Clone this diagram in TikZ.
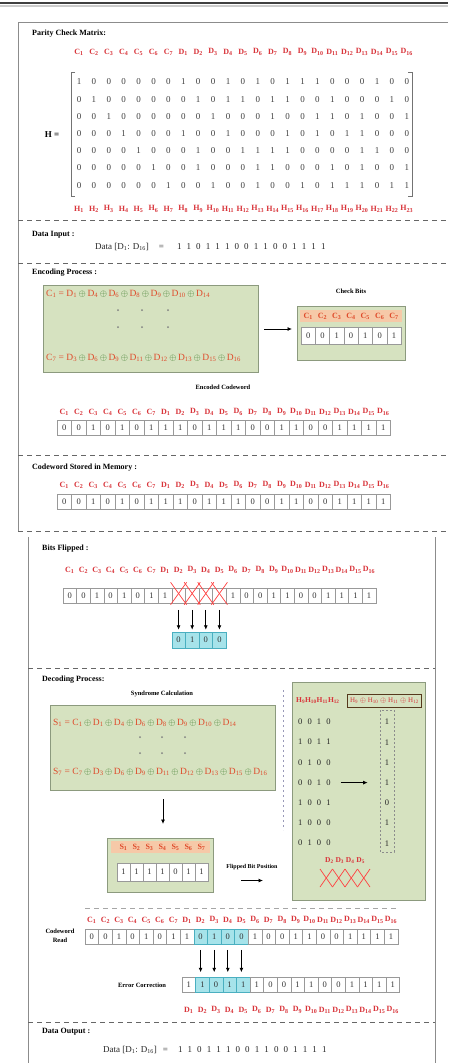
\documentclass[tikz,border=0pt]{standalone}
\usepackage{fontspec}
\setmainfont{Liberation Serif}
\usetikzlibrary{arrows.meta,calc}
\definecolor{lblred}{HTML}{D9343A}
\definecolor{eqorange}{HTML}{DF4A2A}
\definecolor{xorgreen}{HTML}{3B7A2A}
\definecolor{boxgreen}{HTML}{D6E2C0}
\definecolor{boxedge}{HTML}{8C9A7E}
\definecolor{cyanfill}{HTML}{A6E3EA}
\definecolor{cyanedge}{HTML}{4AAFC0}
\definecolor{peach}{HTML}{F6C9A8}
\newcommand{\sbs}[1]{\textsubscript{#1}}
\newcommand{\xo}{\textcolor{xorgreen}{$\oplus$}}
\newcommand{\dg}{\hspace{5.1pt}}
\tikzset{
  heading/.style={font=\fontsize{8}{9}\selectfont\bfseries, anchor=west, inner sep=0pt},
  sublabel/.style={font=\fontsize{6.5}{7}\selectfont\bfseries, inner sep=0pt},
  lab/.style={font=\fontsize{8}{9}\selectfont\bfseries, text=lblred, inner sep=0pt},
  mbit/.style={font=\fontsize{9}{10}\selectfont, text=black!75, inner sep=0pt},
  cell/.style={draw=black!40, fill=white, minimum height=15pt, inner sep=0pt, font=\fontsize{8.5}{9}\selectfont, text=black!80, line width=0.5pt},
  cyancell/.style={cell, fill=cyanfill, draw=cyanedge},
  gbox/.style={draw=boxedge, fill=boxgreen, line width=1pt, inner sep=0pt},
  sep/.style={dash pattern=on 5pt off 4pt, draw=black!60, line width=0.9pt},
  frame/.style={draw=black!45, line width=0.8pt},
  arr/.style={-{Latex[length=4.5pt,width=4pt]}, line width=0.8pt},
  eq/.style={font=\fontsize{9.5}{10}\selectfont, text=eqorange, inner sep=0pt, anchor=west},
  dotn/.style={circle, fill=black!50, inner sep=0pt, minimum size=2pt},
  datatext/.style={font=\fontsize{9}{10}\selectfont, anchor=west, inner sep=0pt, text=black!85},
}
\begin{document}
\begin{tikzpicture}[x=1pt,y=-1pt]
\useasboundingbox (0,0) rectangle (448,1063);
\fill[white] (0,0) rectangle (448,1063);
% top bar
\draw[black!20, line width=2pt] (0,5.5) -- (448,5.5);
\draw[black!75, line width=1.3pt] (0,3) -- (448,3);
% ---------------- panel 1 ----------------
\draw[frame] (448,22) -- (18,22) -- (18,531);
\node[heading] (hpcm) at (32,34) {Parity Check Matrix:};
\foreach \i in {1,...,23}{
  \pgfmathtruncatemacro\j{\i-7}
  \pgfmathsetmacro\xx{79+(\i-1)*14.9}
  \ifnum\i<8 \node[lab] (ml-\i) at (\xx,52) {C\sbs{\i}};
  \else \node[lab] (ml-\i) at (\xx,52) {D\sbs{\j}}; \fi
  \node[lab] (hl-\i) at (\xx,209) {H\sbs{\i}};
}
\foreach \row [count=\r] in {
 {1,0,0,0,0,0,0,1,0,0,1,0,1,0,1,1,1,0,0,0,1,0,0},
 {0,1,0,0,0,0,0,0,1,0,1,1,0,1,1,0,0,1,0,0,0,1,0},
 {0,0,1,0,0,0,0,0,0,1,0,0,0,1,0,0,1,1,0,1,0,0,1},
 {0,0,0,1,0,0,0,1,0,0,1,0,0,0,1,0,1,0,1,1,0,0,0},
 {0,0,0,0,1,0,0,0,1,0,0,1,1,1,1,0,0,0,0,1,1,0,0},
 {0,0,0,0,0,1,0,0,1,0,0,0,1,1,0,0,0,1,0,1,0,0,1},
 {0,0,0,0,0,0,1,0,0,1,0,0,1,0,0,1,0,1,1,1,0,1,1}}{
  \foreach \b [count=\c] in \row {
    \node[mbit] (m-\r-\c) at ({79+(\c-1)*14.9},{82+(\r-1)*17.2}) {\b};
  }
}
\draw[black!55, line width=1pt] (75,72) -- (71,72) -- (71,196) -- (75,196);
\draw[black!55, line width=1pt] (408,72) -- (412,72) -- (412,196) -- (408,196);
\node[font=\fontsize{9}{10}\selectfont\bfseries, inner sep=0pt] (hlabel) at (52,135) {H =};
\draw[sep] (18,220) -- (448,220);
% data input
\node[heading] (hdin) at (32,235) {Data Input :};
\node[datatext] (din) at (95,247) {Data [D\sbs{1}: D\sbs{16}]\hspace{10pt}=\hspace{13pt}1\dg1\dg0\dg1\dg1\dg1\dg0\dg0\dg1\dg1\dg0\dg0\dg1\dg1\dg1\dg1};
\draw[sep] (18,263) -- (448,263);
% encoding
\node[heading] (henc) at (32,273) {Encoding Process :};
\node[gbox, minimum width=215pt, minimum height=87pt, anchor=north west] (encbox) at (43,285) {};
\node[eq] (eq1) at (46,294) {C\sbs{1} = D\sbs{1}\,\xo\,D\sbs{4}\,\xo\,D\sbs{6}\,\xo\,D\sbs{8}\,\xo\,D\sbs{9}\,\xo\,D\sbs{10}\,\xo\,D\sbs{14}};
\foreach \x in {118,142,168}{\foreach \y in {310,327}{\node[dotn] (ed-\x-\y) at (\x,\y) {};}}
\node[eq] (eq7) at (46,358) {C\sbs{7} = D\sbs{3}\,\xo\,D\sbs{6}\,\xo\,D\sbs{9}\,\xo\,D\sbs{11}\,\xo\,D\sbs{12}\,\xo\,D\sbs{13}\,\xo\,D\sbs{15}\,\xo\,D\sbs{16}};
\node[sublabel] (cbt) at (351,291) {Check Bits};
\node[gbox, minimum width=108pt, minimum height=54pt, anchor=north west] (chk) at (297,306) {};
\fill[peach] (300,310) rectangle (402,322);
\foreach \b [count=\i] in {0,0,1,0,1,0,1}{
  \node[lab, text=eqorange] (cl-\i) at ({301+(\i-0.5)*14.3},316) {C\sbs{\i}};
  \node[cell, minimum width=14.3pt, minimum height=17pt] (cb-\i) at ({301+(\i-0.5)*14.3},336) {\b};
}
\draw[arr] ([xshift=5pt]encbox.east) -- ([xshift=-5pt]encbox.east -| chk.west);
% encoded codeword
\node[sublabel] (ecwt) at (223,387) {Encoded Codeword};
\foreach \b [count=\i] in {0,0,1,0,1,0,1,1,1,0,1,1,1,0,0,1,1,0,0,1,1,1,1}{
  \pgfmathtruncatemacro\j{\i-7}
  \pgfmathsetmacro\xx{57+(\i-0.5)*14.5}
  \ifnum\i<8 \node[lab] (el-\i) at (\xx,412) {C\sbs{\i}};
  \else \node[lab] (el-\i) at (\xx,412) {D\sbs{\j}}; \fi
  \node[cell, minimum width=14.5pt] (enc-\i) at (\xx,428) {\b};
  \ifnum\i<8 \node[lab] (sl-\i) at (\xx,485) {C\sbs{\i}};
  \else \node[lab] (sl-\i) at (\xx,485) {D\sbs{\j}}; \fi
  \node[cell, minimum width=14.5pt] (mem-\i) at (\xx,502) {\b};
}
\draw[sep] (18,455) -- (448,455);
\node[heading] (hmem) at (32,468) {Codeword Stored in Memory :};
\draw[sep] (18,531) -- (448,531);
% ---------------- panel 2 ----------------
\draw[frame] (28,537) -- (28,1063);
\draw[frame] (435,537) -- (435,1063);
\node[heading] (hbf) at (42,549) {Bits Flipped :};
\foreach \b [count=\i] in {0,0,1,0,1,0,1,1,{},{},{},{},1,0,0,1,1,0,0,1,1,1,1}{
  \pgfmathtruncatemacro\j{\i-7}
  \pgfmathsetmacro\xx{63+(\i-0.5)*13.6}
  \ifnum\i<8 \node[lab] (bl-\i) at (\xx,570) {C\sbs{\i}};
  \else \node[lab] (bl-\i) at (\xx,570) {D\sbs{\j}}; \fi
  \node[cell, minimum width=13.6pt] (bf-\i) at (\xx,596) {\b};
}
\foreach \i in {9,...,12}{
  \draw[red!75, line width=0.7pt] ($(bf-\i.north west)+(-1,-6)$) -- ($(bf-\i.south east)+(1,1)$);
  \draw[red!75, line width=0.7pt] ($(bf-\i.north east)+(1,-6)$) -- ($(bf-\i.south west)+(-1,1)$);
}
\foreach \b [count=\i] in {0,1,0,0}{
  \node[cyancell, minimum width=13.6pt, minimum height=16pt] (cy-\i) at ({63+(\i+7.5)*13.6},640) {\b};
}
\foreach \i [evaluate=\i as \k using int(\i+8)] in {1,...,4}{
  \draw[arr, shorten <=6pt, shorten >=2pt] (bf-\k.south) -- (cy-\i.north);
}
\draw[sep] (28,668) -- (435,668);
% decoding
\node[heading] (hdec) at (42,680) {Decoding Process:};
\node[sublabel] (sct) at (162,694) {Syndrome Calculation};
\node[gbox, minimum width=225pt, minimum height=85pt, anchor=north west] (sbox) at (50,705) {};
\node[eq] (s1) at (53,723) {S\sbs{1} = C\sbs{1}\,\xo\,D\sbs{1}\,\xo\,D\sbs{4}\,\xo\,D\sbs{6}\,\xo\,D\sbs{8}\,\xo\,D\sbs{9}\,\xo\,D\sbs{10}\,\xo\,D\sbs{14}};
\foreach \x in {140,162,185}{\foreach \y in {737,753}{\node[dotn] (sd-\x-\y) at (\x,\y) {};}}
\node[eq] (s7) at (53,772) {S\sbs{7} = C\sbs{7}\,\xo\,D\sbs{3}\,\xo\,D\sbs{6}\,\xo\,D\sbs{9}\,\xo\,D\sbs{11}\,\xo\,D\sbs{12}\,\xo\,D\sbs{13}\,\xo\,D\sbs{15}\,\xo\,D\sbs{16}};
\draw[dash pattern=on 2pt off 3pt, draw=blue!30!black!40, line width=0.8pt] (283,690) -- (283,830);
% right box
\node[gbox, minimum width=133pt, minimum height=218pt, anchor=north west] (rbox) at (292,682) {};
\node[lab, anchor=west, font=\fontsize{7.5}{8}\selectfont\bfseries] (hh) at (296,701) {H\sbs{9}H\sbs{10}H\sbs{11}H\sbs{12}};
\node[draw=black!55!brown, line width=0.8pt, minimum width=74pt, minimum height=13pt, anchor=west, inner sep=0pt, font=\fontsize{7}{8}\selectfont, text=lblred] (hbox) at (347,701) {H\sbs{9} $\oplus$ H\sbs{10} $\oplus$ H\sbs{11} $\oplus$ H\sbs{12}};
\draw[dash pattern=on 2pt off 2pt, draw=black!45, line width=0.6pt] (380,710) rectangle (394,852);
\foreach \rw/\v [count=\k] in {{0\dg0\dg1\dg0}/1,{1\dg0\dg1\dg1}/1,{0\dg1\dg0\dg0}/1,{0\dg0\dg1\dg0}/1,{1\dg0\dg0\dg1}/0,{1\dg0\dg0\dg0}/1,{0\dg1\dg0\dg0}/1}{
  \node[datatext, font=\fontsize{8.5}{9}\selectfont] (r-\k) at (298,{722+(\k-1)*20.2}) {\rw};
  \node[font=\fontsize{8.5}{9}\selectfont, inner sep=0pt, text=black!85] (v-\k) at (387,{722+(\k-1)*20.2}) {\v};
}
\draw[arr, shorten <=10pt, shorten >=17pt] (r-4.east) -- (v-4.west);
\node[lab, font=\fontsize{7.5}{8}\selectfont\bfseries] (dd) at (345,861) {D\sbs{2} D\sbs{3} D\sbs{4} D\sbs{5}};
\foreach \i in {1,...,4}{
  \coordinate (xa-\i) at ({320+(\i-1)*12.5},869);
  \coordinate (xb-\i) at ({332.5+(\i-1)*12.5},887);
  \draw[red!75, line width=0.7pt] (xa-\i) -- (xb-\i);
  \draw[red!75, line width=0.7pt] (xa-\i |- xb-\i) -- (xb-\i |- xa-\i);
}
% syndrome box
\node[gbox, minimum width=106pt, minimum height=54pt, anchor=north west] (synbox) at (107,838) {};
\fill[peach] (111,841) rectangle (210,853);
\foreach \b [count=\i] in {1,1,1,1,0,1,1}{
  \node[lab, text=eqorange] (sl7-\i) at ({117+(\i-0.5)*13},847) {S\sbs{\i}};
  \node[cell, minimum width=13pt, minimum height=18pt] (sy-\i) at ({117+(\i-0.5)*13},872) {\b};
}
\draw[arr, shorten <=8pt, shorten >=14pt] (sbox.south) -- (sbox.south |- synbox.north);
\node[sublabel, font=\fontsize{6}{7}\selectfont\bfseries] (fbp) at (252,867) {Flipped Bit Position};
\draw[arr, shorten <=27pt, shorten >=29pt] ($(synbox.east)+(0,15)$) -- ($(synbox.east -| rbox.west)+(0,15)$);
% codeword read
\draw[dash pattern=on 5pt off 4pt, draw=black!35, line width=0.8pt] (85,908) -- (398,908);
\node[sublabel, align=center, font=\fontsize{6.5}{9}\selectfont\bfseries] (cwr) at (60,936) {Codeword\\Read};
\foreach \b [count=\i] in {0,0,1,0,1,0,1,1,0,1,0,0,1,0,0,1,1,0,0,1,1,1,1}{
  \pgfmathtruncatemacro\j{\i-7}
  \pgfmathsetmacro\xx{85+(\i-0.5)*13.6}
  \def\st{cell}
  \ifnum\i>8 \ifnum\i<13 \def\st{cyancell}\fi\fi
  \ifnum\i<8 \node[lab] (rl-\i) at (\xx,920) {C\sbs{\i}};
  \else \node[lab] (rl-\i) at (\xx,920) {D\sbs{\j}}; \fi
  \node[\st, minimum width=13.6pt] (rd-\i) at (\xx,937) {\b};
}
\node[sublabel] (ect) at (142,985) {Error Correction};
\foreach \b [count=\i] in {1,1,0,1,1,1,0,0,1,1,0,0,1,1,1,1}{
  \pgfmathsetmacro\xx{182+(\i-0.5)*13.6}
  \def\st{cell}
  \ifnum\i>1 \ifnum\i<6 \def\st{cyancell}\fi\fi
  \node[\st, minimum width=13.6pt] (cor-\i) at (\xx,985) {\b};
  \node[lab] (dl-\i) at (\xx,1010) {D\sbs{\i}};
}
\foreach \i [evaluate=\i as \k using int(\i+8), evaluate=\i as \m using int(\i+1)] in {1,...,4}{
  \draw[arr, shorten <=5pt, shorten >=5pt] (rd-\k.south) -- (rd-\k.south |- cor-\m.north);
}
\draw[sep] (28,1022) -- (435,1022);
\node[heading] (hdout) at (42,1032) {Data Output :};
\node[datatext] (dout) at (103,1050) {Data [D\sbs{1}: D\sbs{16}]\hspace{6pt}=\hspace{10pt}1\dg1\dg0\dg1\dg1\dg1\dg0\dg0\dg1\dg1\dg0\dg0\dg1\dg1\dg1\dg1};
\end{tikzpicture}
\end{document}
